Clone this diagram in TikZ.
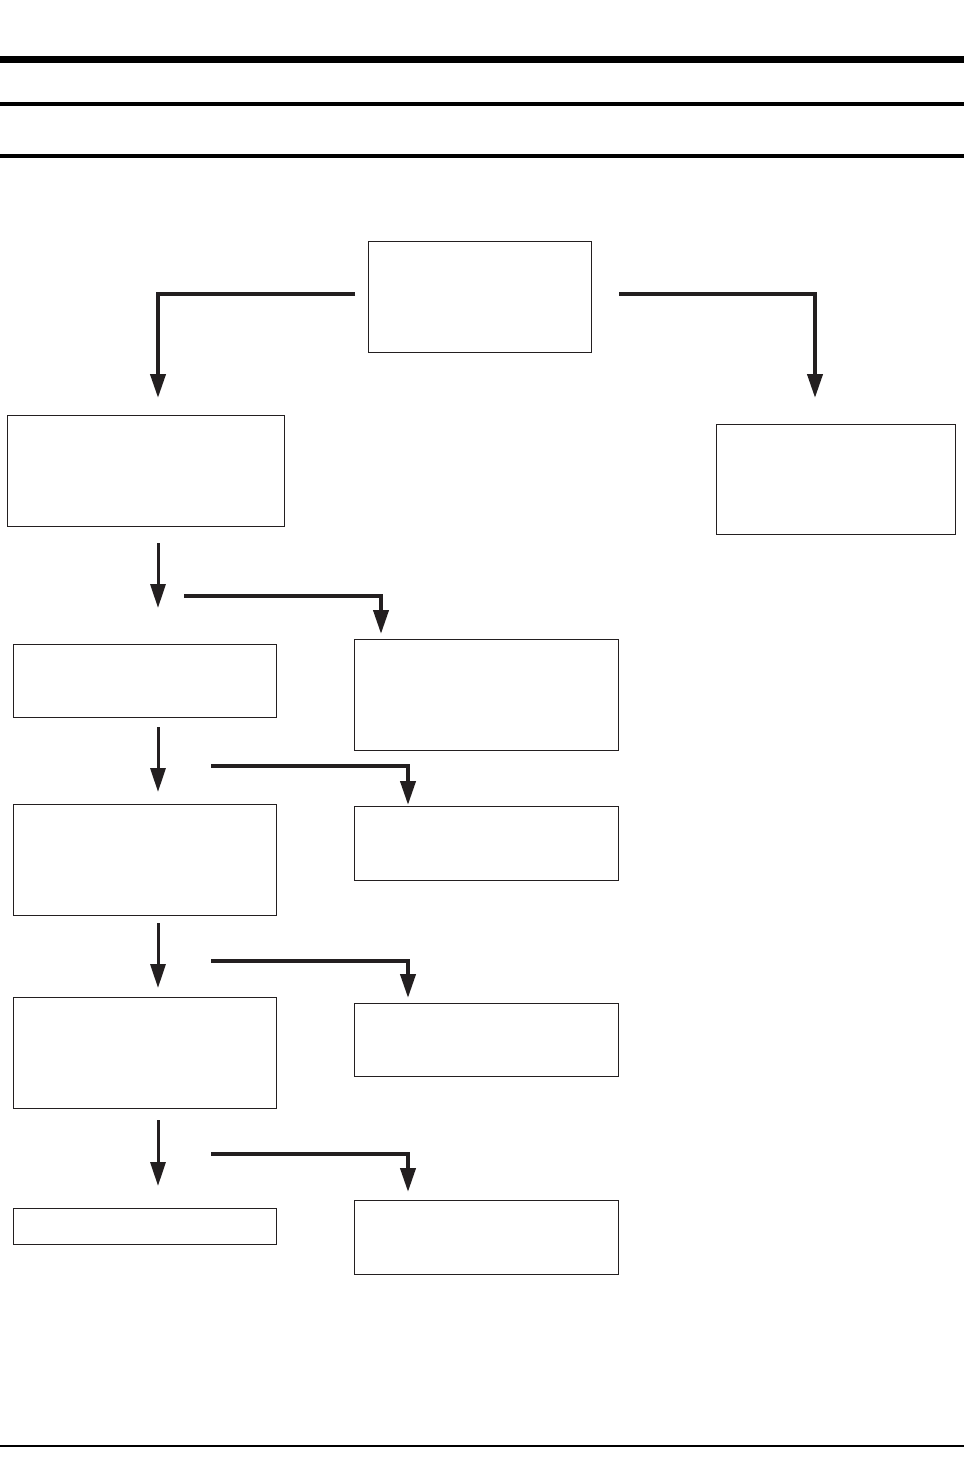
\documentclass[tikz,border=0pt]{standalone}
\usetikzlibrary{arrows.meta}
\definecolor{ink}{HTML}{231F20}

\begin{document}
\begin{tikzpicture}[x=1pt,y=-1pt,
  box/.style={draw=ink,line width=0.9pt,rectangle,inner sep=0pt,outer sep=0pt,anchor=north west},
  down/.style={draw=ink,line width=3pt,-{Triangle[length=24pt,width=15pt]}},
  elbow/.style={draw=ink,line width=4pt,-{Triangle[length=24pt,width=15pt]}}]

  \useasboundingbox (0,0) rectangle (964,1483);

  % page rules
  \draw [line width=7pt] (0,59) -- (964,59);
  \draw [line width=4pt] (0,104) -- (964,104);
  \draw [line width=4.5pt] (0,156) -- (964,156);
  \draw [line width=2.5pt] (0,1446) -- (964,1446);

  % boxes
  \node [box, minimum width=223pt, minimum height=111pt] (top) at (368,241) {};
  \node [box, minimum width=277pt, minimum height=111pt] (left) at (7,415) {};
  \node [box, minimum width=239pt, minimum height=110pt] (right) at (716,424) {};

  \node [box, minimum width=263pt, minimum height=73pt]  (stepa) at (13,644) {};
  \node [box, minimum width=264pt, minimum height=111pt] (sidea) at (354,639) {};
  \node [box, minimum width=263pt, minimum height=111pt] (stepb) at (13,804) {};
  \node [box, minimum width=264pt, minimum height=74pt]  (sideb) at (354,806) {};
  \node [box, minimum width=263pt, minimum height=111pt] (stepc) at (13,997) {};
  \node [box, minimum width=264pt, minimum height=73pt]  (sidec) at (354,1003) {};
  \node [box, minimum width=263pt, minimum height=36pt]  (stepd) at (13,1208) {};
  \node [box, minimum width=264pt, minimum height=74pt]  (sided) at (354,1200) {};

  % free ends of the arrows
  \coordinate (topl) at (355,294);  \coordinate (topl tip) at (158,398);
  \coordinate (topr) at (619,294);  \coordinate (topr tip) at (815,398);

  \coordinate (da) at (158,543);  \coordinate (da tip) at (158,608);
  \coordinate (sa) at (184,596);  \coordinate (sa tip) at (381,634);
  \coordinate (db) at (158,727);  \coordinate (db tip) at (158,792);
  \coordinate (sb) at (211,766);  \coordinate (sb tip) at (408,805);
  \coordinate (dc) at (158,923);  \coordinate (dc tip) at (158,988);
  \coordinate (sc) at (211,961);  \coordinate (sc tip) at (408,998);
  \coordinate (dd) at (158,1120); \coordinate (dd tip) at (158,1186);
  \coordinate (sd) at (211,1154); \coordinate (sd tip) at (408,1192);

  % arrows
  \draw [elbow] (topl) -| (topl tip);
  \draw [elbow] (topr) -| (topr tip);

  \draw [down] (da) -- (da tip);
  \draw [elbow] (sa) -| (sa tip);
  \draw [down] (db) -- (db tip);
  \draw [elbow] (sb) -| (sb tip);
  \draw [down] (dc) -- (dc tip);
  \draw [elbow] (sc) -| (sc tip);
  \draw [down] (dd) -- (dd tip);
  \draw [elbow] (sd) -| (sd tip);
\end{tikzpicture}
\end{document}
